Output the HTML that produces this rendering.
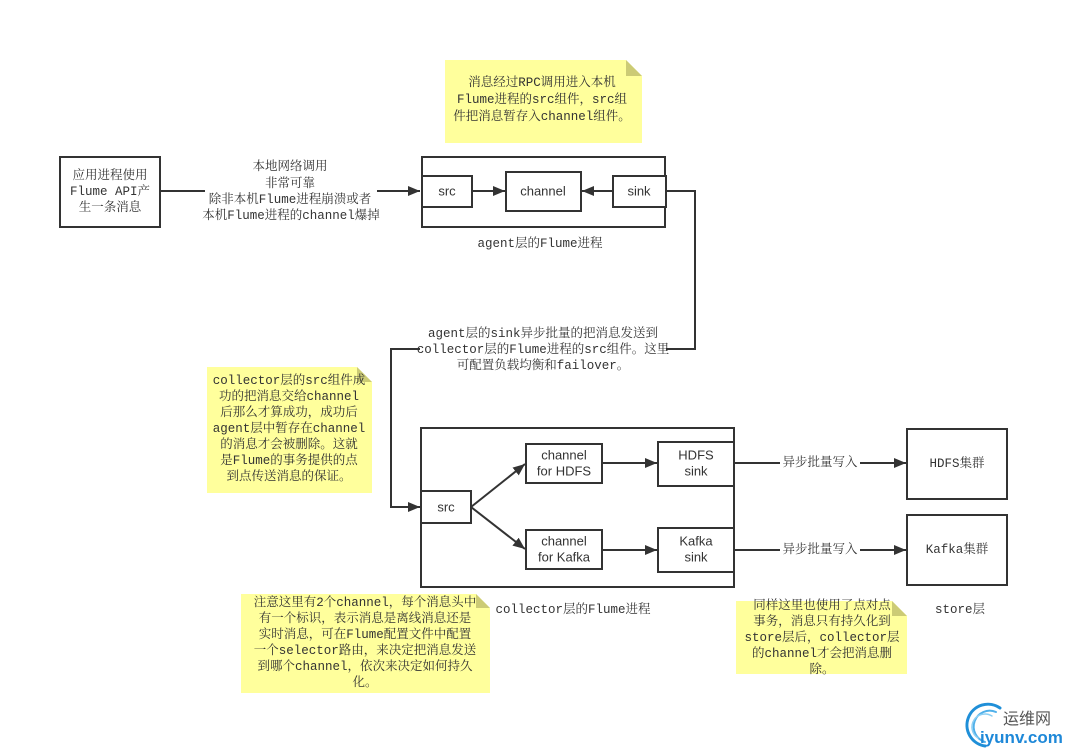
<!DOCTYPE html>
<html><head><meta charset="utf-8"><style>
html,body{margin:0;padding:0;background:#fff;}
svg{display:block;}
.t{font-family:"Liberation Mono","Noto Serif CJK SC","Noto Sans CJK SC",monospace;font-size:12.5px;fill:#333;}
.s{font-family:"Liberation Sans",Arial,sans-serif;font-size:13px;fill:#333;}
</style></head><body>
<svg width="1067" height="753" viewBox="0 0 1067 753" xmlns="http://www.w3.org/2000/svg">
<defs>
<marker id="ah" viewBox="0 0 12 10" refX="12" refY="5" markerWidth="12" markerHeight="10" markerUnits="userSpaceOnUse" orient="auto">
<path d="M0,0 L12,5 L0,10 z" fill="#333"/>
</marker>
</defs>
<g fill="none" stroke="#333" stroke-width="2">
<!-- app box -->
<rect x="60" y="157" width="100" height="70" fill="#fff"/>
<!-- agent box -->
<rect x="422" y="157" width="243" height="70"/>
<rect x="422" y="176" width="50" height="31" fill="#fff"/>
<rect x="506" y="172" width="75" height="39" fill="#fff"/>
<rect x="613" y="176" width="53" height="31" fill="#fff"/>
<!-- collector box -->
<rect x="421" y="428" width="313" height="159"/>
<rect x="421" y="491" width="50" height="32" fill="#fff"/>
<rect x="526" y="444" width="76" height="39" fill="#fff"/>
<rect x="658" y="442" width="76" height="44" fill="#fff"/>
<rect x="526" y="530" width="76" height="39" fill="#fff"/>
<rect x="658" y="528" width="76" height="44" fill="#fff"/>
<!-- store boxes -->
<rect x="907" y="429" width="100" height="70"/>
<rect x="907" y="515" width="100" height="70"/>
<!-- connectors -->
<path d="M160,191 H205"/>
<path d="M377,191 H420" marker-end="url(#ah)"/>
<path d="M472,191 H505" marker-end="url(#ah)"/>
<path d="M613,191 H582" marker-end="url(#ah)"/>
<path d="M666,191 H695 V349 H666"/>
<path d="M420,349 H391 V507 H420" marker-end="url(#ah)"/>
<path d="M471,507 L525,464" marker-end="url(#ah)"/>
<path d="M471,507 L525,549" marker-end="url(#ah)"/>
<path d="M602,463 H657" marker-end="url(#ah)"/>
<path d="M602,550 H657" marker-end="url(#ah)"/>
<path d="M734,463 H780"/>
<path d="M860,463 H906" marker-end="url(#ah)"/>
<path d="M734,550 H780"/>
<path d="M860,550 H906" marker-end="url(#ah)"/>
</g>

<!-- notes -->
<g>
<polygon points="445,60 626,60 642,76 642,143 445,143" fill="#ffff9c"/>
<polygon points="626,60 642,76 626,76" fill="#cccb75"/>
<polygon points="207,367 357,367 372,382 372,493 207,493" fill="#ffff9c"/>
<polygon points="357,367 372,382 357,382" fill="#cccb75"/>
<polygon points="241,594 476,594 490,608 490,693 241,693" fill="#ffff9c"/>
<polygon points="476,594 490,608 476,608" fill="#cccb75"/>
<polygon points="736,601 892,601 907,616 907,674 736,674" fill="#ffff9c"/>
<polygon points="892,601 907,616 892,616" fill="#cccb75"/>
</g>

<g class="t" text-anchor="middle" dominant-baseline="central">
<text x="110" y="176">应用进程使用</text>
<text x="110" y="192">Flume API产</text>
<text x="110" y="208">生一条消息</text>

<text x="290" y="167">本地网络调用</text>
<text x="290" y="184">非常可靠</text>
<text x="290" y="200">除非本机Flume进程崩溃或者</text>
<text x="291" y="216">本机Flume进程的channel爆掉</text>

<text x="542" y="83">消息经过RPC调用进入本机</text>
<text x="542" y="100">Flume进程的src组件，src组</text>
<text x="542" y="117">件把消息暂存入channel组件。</text>

<text x="540" y="244">agent层的Flume进程</text>

<text x="543" y="334">agent层的sink异步批量的把消息发送到</text>
<text x="543" y="350">collector层的Flume进程的src组件。这里</text>
<text x="543" y="366">可配置负载均衡和failover。</text>

<text x="289" y="381">collector层的src组件成</text>
<text x="289" y="397">功的把消息交给channel</text>
<text x="289" y="413">后那么才算成功，成功后</text>
<text x="289" y="429">agent层中暂存在channel</text>
<text x="289" y="445">的消息才会被删除。这就</text>
<text x="289" y="461">是Flume的事务提供的点</text>
<text x="289" y="477">到点传送消息的保证。</text>

<text x="820" y="463">异步批量写入</text>
<text x="820" y="550">异步批量写入</text>
<text x="957" y="464">HDFS集群</text>
<text x="957" y="550">Kafka集群</text>

<text x="573" y="610">collector层的Flume进程</text>
<text x="960" y="610">store层</text>

<text x="365" y="603">注意这里有2个channel，每个消息头中</text>
<text x="365" y="619">有一个标识，表示消息是离线消息还是</text>
<text x="365" y="635">实时消息，可在Flume配置文件中配置</text>
<text x="365" y="651">一个selector路由，来决定把消息发送</text>
<text x="365" y="667">到哪个channel，依次来决定如何持久</text>
<text x="365" y="683">化。</text>

<text x="822" y="606">同样这里也使用了点对点</text>
<text x="822" y="622">事务，消息只有持久化到</text>
<text x="822" y="638">store层后，collector层</text>
<text x="822" y="654">的channel才会把消息删</text>
<text x="822" y="670">除。</text>
</g>

<g class="s" text-anchor="middle" dominant-baseline="central">
<text x="447" y="191">src</text>
<text x="543" y="191">channel</text>
<text x="639" y="191">sink</text>
<text x="446" y="507">src</text>
<text x="564" y="455">channel</text>
<text x="564" y="471">for HDFS</text>
<text x="696" y="455">HDFS</text>
<text x="696" y="471">sink</text>
<text x="564" y="541">channel</text>
<text x="564" y="557">for Kafka</text>
<text x="696" y="541">Kafka</text>
<text x="696" y="557">sink</text>
</g>

<!-- logo -->
<g fill="none" stroke-linecap="round">
<path d="M1000,708 A21,21 0 1 0 985,746" stroke="#1f8fd8" stroke-width="3"/>
<path d="M996,712 A16,16 0 1 0 985,742" stroke="#4fb0ea" stroke-width="2"/>
<path d="M992,716 A11,11 0 0 0 978,738" stroke="#8ccff3" stroke-width="1.5"/>
</g>
<text x="1003" y="724" font-family="'Noto Sans CJK SC','WenQuanYi Zen Hei',sans-serif" font-size="16" fill="#555">运维网</text>
<text x="980" y="743" font-family="'Liberation Sans',Arial,sans-serif" font-size="17" font-weight="bold" fill="#1e88d8">iyunv.com</text>
</svg>
</body></html>
